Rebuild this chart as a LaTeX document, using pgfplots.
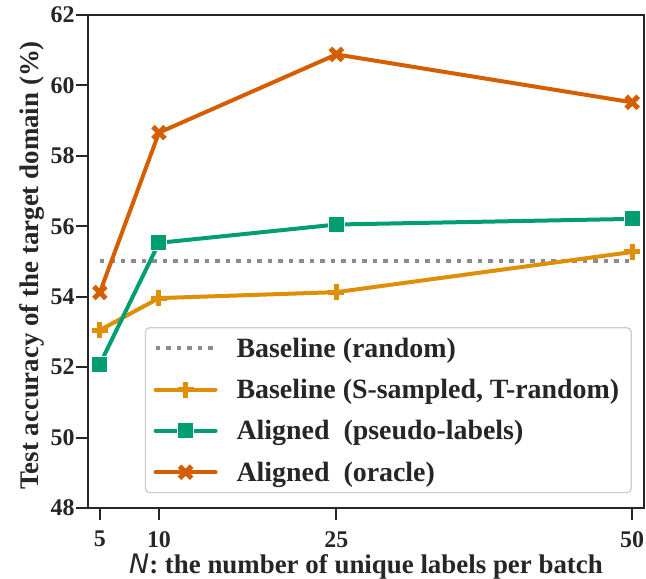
\documentclass[border=0pt]{standalone}
\usepackage{fontspec}
\setmainfont{Liberation Serif}
\newfontfamily\dejavu{DejaVu Sans}
\usepackage{pgfplots}
\pgfplotsset{compat=1.18}
\definecolor{cbOrange}{HTML}{DE8F05}
\definecolor{cbGreen}{HTML}{029E73}
\definecolor{cbRed}{HTML}{D55E00}
\definecolor{cbGray}{HTML}{8C8C8C}
\definecolor{axisgray}{HTML}{262626}
\definecolor{legframe}{HTML}{CCCCCC}
\begin{document}
\begin{tikzpicture}
\begin{axis}[
  scale only axis, width=556bp, height=493bp,
  xmin=4, xmax=51, ymin=48, ymax=62,
  xtick={5,10,25,50}, ytick={48,50,...,62},
  tick align=outside, xtick pos=bottom, ytick pos=left,
  major tick length=12bp,
  axis line style={line width=2bp, color=axisgray},
  every tick/.style={line width=2bp, color=axisgray},
  ticklabel style={font=\bfseries\fontsize{24}{26}\selectfont, text=axisgray},
  yticklabel style={xshift=2bp},
  xticklabel style={inner sep=0pt, yshift=-11bp},
  /pgf/number format/assume math mode=true,
  xlabel={{\dejavu\mdseries\itshape N}: the number of unique labels per batch},
  ylabel={Test accuracy of the target domain (\%)},
  label style={font=\bfseries\fontsize{27}{30}\selectfont, text=axisgray},
  xlabel style={at={(axis description cs:0.5,0)}, anchor=base, inner sep=0pt, yshift=-65bp},
  ylabel style={yshift=-1bp, xshift=-4bp},
  legend style={at={(0.1025,0.03)}, anchor=south west, draw=legframe, line width=1.2bp,
    rounded corners=4bp, font=\bfseries\fontsize{28}{31}\selectfont, text=axisgray,
    row sep=16.5bp, column sep=15bp, inner xsep=8bp, inner ysep=8bp,
    nodes={inner xsep=4bp}},
  legend cell align=left,
  legend image code/.code={\draw[mark repeat=2,mark phase=2] plot coordinates {(0bp,0bp)(30bp,0bp)(60bp,0bp)};},
]
\addplot[cbGray, line width=4bp, dash pattern=on 4.5bp off 6bp] coordinates {(5,55.02) (50,55.02)};
\addlegendentry{Baseline (random)}
\addplot[cbOrange, line width=4bp, line cap=round, line join=round, mark=+, mark size=8bp, mark options={line width=5bp, solid, line cap=butt}] coordinates {(5,53.05) (10,53.96) (25,54.13) (50,55.27)};
\addlegendentry{Baseline (S-sampled, T-random)}
\addplot[cbGreen, line width=4bp, line cap=round, line join=round, mark=square*, mark size=8bp, mark options={draw=white, line width=1bp, fill=cbGreen}] coordinates {(5,52.08) (10,55.53) (25,56.05) (50,56.21)};
\addlegendentry{Aligned\ \ (pseudo-labels)}
\addplot[cbRed, line width=4bp, line cap=round, line join=round, mark=x, mark size=8.5bp, mark options={line width=5bp, line cap=butt}] coordinates {(5,54.12) (10,58.66) (25,60.88) (50,59.52)};
\addlegendentry{Aligned\ \ (oracle)}
\end{axis}
\pgfresetboundingbox
\path[use as bounding box] ([shift={(-88bp,-71bp)}]current axis.south west) rectangle ([shift={(2bp,15bp)}]current axis.north east);
\end{tikzpicture}
\end{document}
